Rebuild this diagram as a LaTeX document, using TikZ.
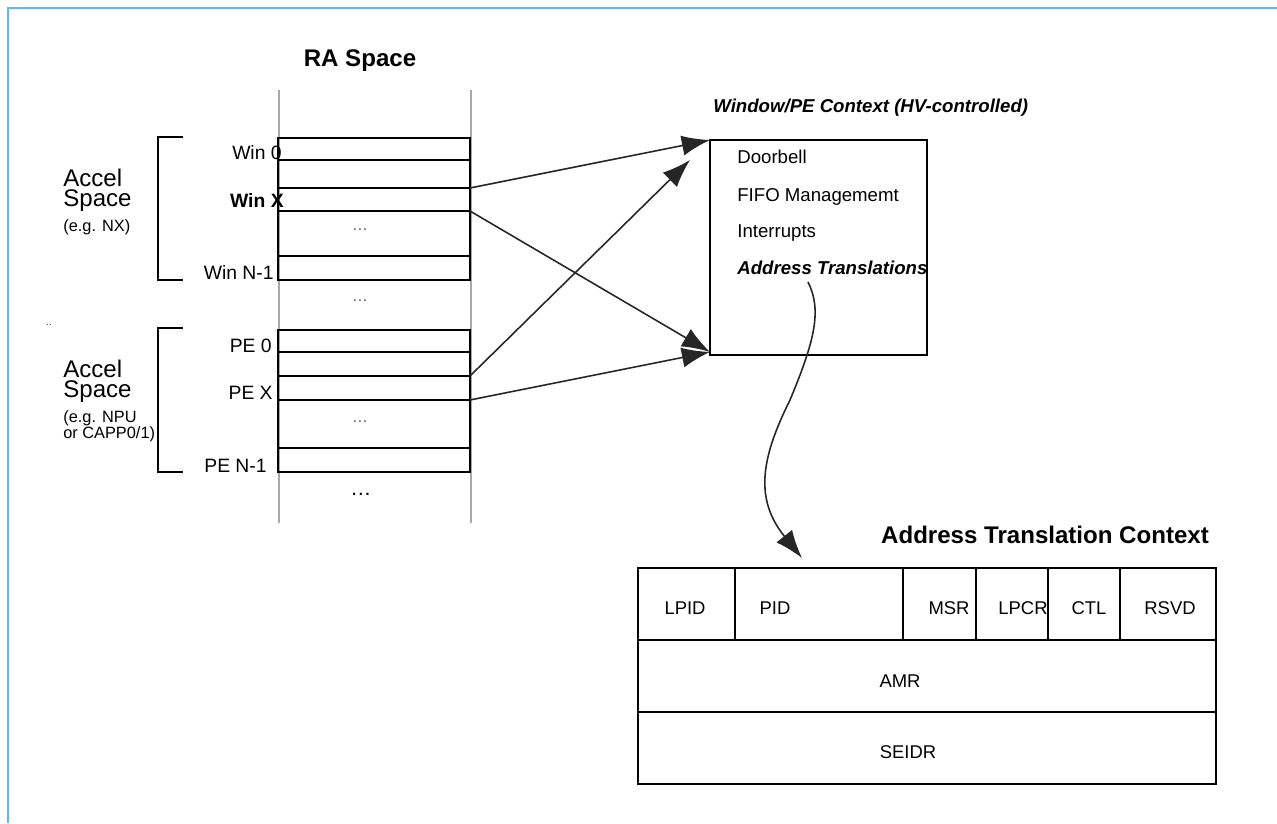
\documentclass[tikz,border=0pt]{standalone}
\usepackage{fontspec}
\setmainfont{Liberation Sans}
\usetikzlibrary{arrows.meta,positioning}
\definecolor{FrameBlue}{HTML}{64B5F6}
\definecolor{RailGray}{HTML}{A8A8A8}
\definecolor{DotGray}{HTML}{505050}

\begin{document}
\begin{tikzpicture}[x=0.02cm,y=-0.02cm,>={Latex[length=16pt,width=11.5pt]},
  row/.style={draw,line width=0.85pt,minimum width=3.84cm,inner sep=0pt,outer sep=0pt},
  cell/.style={draw,line width=0.85pt,minimum height=1.44cm,inner sep=0pt,outer sep=0pt},
  lbl/.style={anchor=base east,inner sep=0pt,font=\fontsize{11}{13}\selectfont},
  item/.style={anchor=base west,inner sep=0pt,font=\fontsize{10.6}{12}\selectfont},
  fld/.style={anchor=base,inner sep=0pt,font=\fontsize{10.5}{12}\selectfont},
  accel/.style={anchor=north west,align=left,inner sep=0pt,font=\fontsize{13.7}{11.4}\selectfont},
  note/.style={anchor=base west,inner sep=0pt,font=\fontsize{9.3}{11}\selectfont},
  dots/.style={inner sep=0pt,text=DotGray,font=\fontsize{9}{10}\selectfont},
  brk/.style={line width=1.1pt},
  link/.style={->,line width=0.9pt,black!85}]
\useasboundingbox (0,0) rectangle (1277,823);
\draw[FrameBlue,line width=1.6pt] (8,823) -- (8,8) -- (1277,8);

% RA space column
\node[anchor=base,inner sep=0pt,font=\fontsize{13.7}{15}\selectfont\bfseries] (ra) at (360,66.7) {RA Space};
\draw[RailGray,line width=1.6pt] (279,90) -- (279,523);
\draw[RailGray,line width=1.6pt] (471,90) -- (471,523);

\node[lbl] (l-win0) at (282,159) {Win 0};
\node[lbl,font=\fontsize{11}{13}\selectfont\bfseries] (l-winx) at (284,207) {Win X};
\node[lbl] (l-winn) at (274,279) {Win N-1};
\node[lbl] (l-pe0) at (272,352) {PE 0};
\node[lbl] (l-pex) at (273,399) {PE X};
\node[lbl] (l-pen) at (267,472) {PE N-1};

\node[row,minimum height=0.44cm,anchor=north west] (win0) at (278,138) {};
\node[row,minimum height=0.56cm,below=0pt of win0] (wina) {};
\node[row,minimum height=0.46cm,below=0pt of wina] (winx) {};
\node[row,minimum height=0.90cm,below=0pt of winx] (wind) {};
\node[row,minimum height=0.48cm,below=0pt of wind] (winn) {};

\node[row,minimum height=0.44cm,anchor=north west] (pe0) at (278,330) {};
\node[row,minimum height=0.48cm,below=0pt of pe0] (pea) {};
\node[row,minimum height=0.48cm,below=0pt of pea] (pex) {};
\node[row,minimum height=0.96cm,below=0pt of pex] (ped) {};
\node[row,minimum height=0.48cm,below=0pt of ped] (pen) {};

\node[dots] (dots1) at (360,230) {\ldots};
\node[dots] (dots2) at (360,301) {\ldots};
\node[dots] (dots3) at (360,422) {\ldots};
\node[dots,text=black,font=\fontsize{12}{14}\selectfont] (dots4) at (361,494) {\ldots};

% accel spaces
\draw[brk] (183,137) -- (158,137) -- (158,280) -- (183,280);
\draw[brk] (183,328) -- (158,328) -- (158,472) -- (183,472);
\node[accel] (acc1) at (63,169) {Accel\\Space};
\node[note] (eg1) at (63,231) {(e.g. NX)};
\node[dots,font=\fontsize{6}{7}\selectfont] (ddot) at (49,325) {..};
\node[accel] (acc2) at (63,360) {Accel\\Space};
\node[note] (eg2) at (63,422) {(e.g. NPU};
\node[note] (eg3) at (63,438) {or CAPP0/1)};

% window / PE context
\node[item,font=\fontsize{10.6}{12}\selectfont\bfseries\itshape] (ctxt) at (713,112) {Window/PE Context (HV-controlled)};
\node[draw,line width=0.85pt,minimum width=4.34cm,minimum height=4.3cm,inner sep=0pt,outer sep=0pt,anchor=north west] (ctx) at (710,140) {};
\node[item] (bell) at (737,163) {Doorbell};
\node[item] (fifo) at (737,201) {FIFO Managememt};
\node[item] (intr) at (737,237) {Interrupts};
\node[item,font=\fontsize{10.6}{12}\selectfont\bfseries\itshape] (atr) at (737,274) {Address Translations};

\coordinate (pextip) at (690,160);
\draw[link] (winx.north east) -- (ctx.north west);
\draw[link] (winx.south east) -- ([yshift=0.06cm]ctx.south west);
\draw[link] (pex.north east) -- (pextip);
\draw[link] (pex.south east) -- ([yshift=0.06cm]ctx.south west);

% address translation context
\node[anchor=base,inner sep=0pt,font=\fontsize{13.7}{15}\selectfont\bfseries] (attl) at (1045,543) {Address Translation Context};
\node[cell,minimum width=1.94cm,anchor=north west] (lpid) at (638,568) {};
\node[cell,minimum width=3.36cm,right=0pt of lpid] (pid) {};
\node[cell,minimum width=1.46cm,right=0pt of pid] (msr) {};
\node[cell,minimum width=1.44cm,right=0pt of msr] (lpcr) {};
\node[cell,minimum width=1.44cm,right=0pt of lpcr] (ctl) {};
\node[cell,minimum width=1.92cm,right=0pt of ctl] (rsvd) {};
\node[cell,minimum width=11.56cm,anchor=north west] (amr) at (lpid.south west) {};
\node[cell,minimum width=11.56cm,below=0pt of amr] (seidr) {};
\foreach \n/\x/\t in {lpid/685/LPID,pid/775/PID,msr/949/MSR,lpcr/1023/LPCR,ctl/1089/CTL,rsvd/1170/RSVD}
  \node[fld] (t-\n) at (\x,614) {\t};
\node[fld] (t-amr) at (900,687) {AMR};
\node[fld] (t-seidr) at (908,758) {SEIDR};

\coordinate (atsrc) at (808,282);
\coordinate (attip) at (802,558);
\draw[link] (atsrc) .. controls (822,310) and (815,340) .. (790,400)
  .. controls (760,460) and (755,500) .. (attip);
\end{tikzpicture}
\end{document}
